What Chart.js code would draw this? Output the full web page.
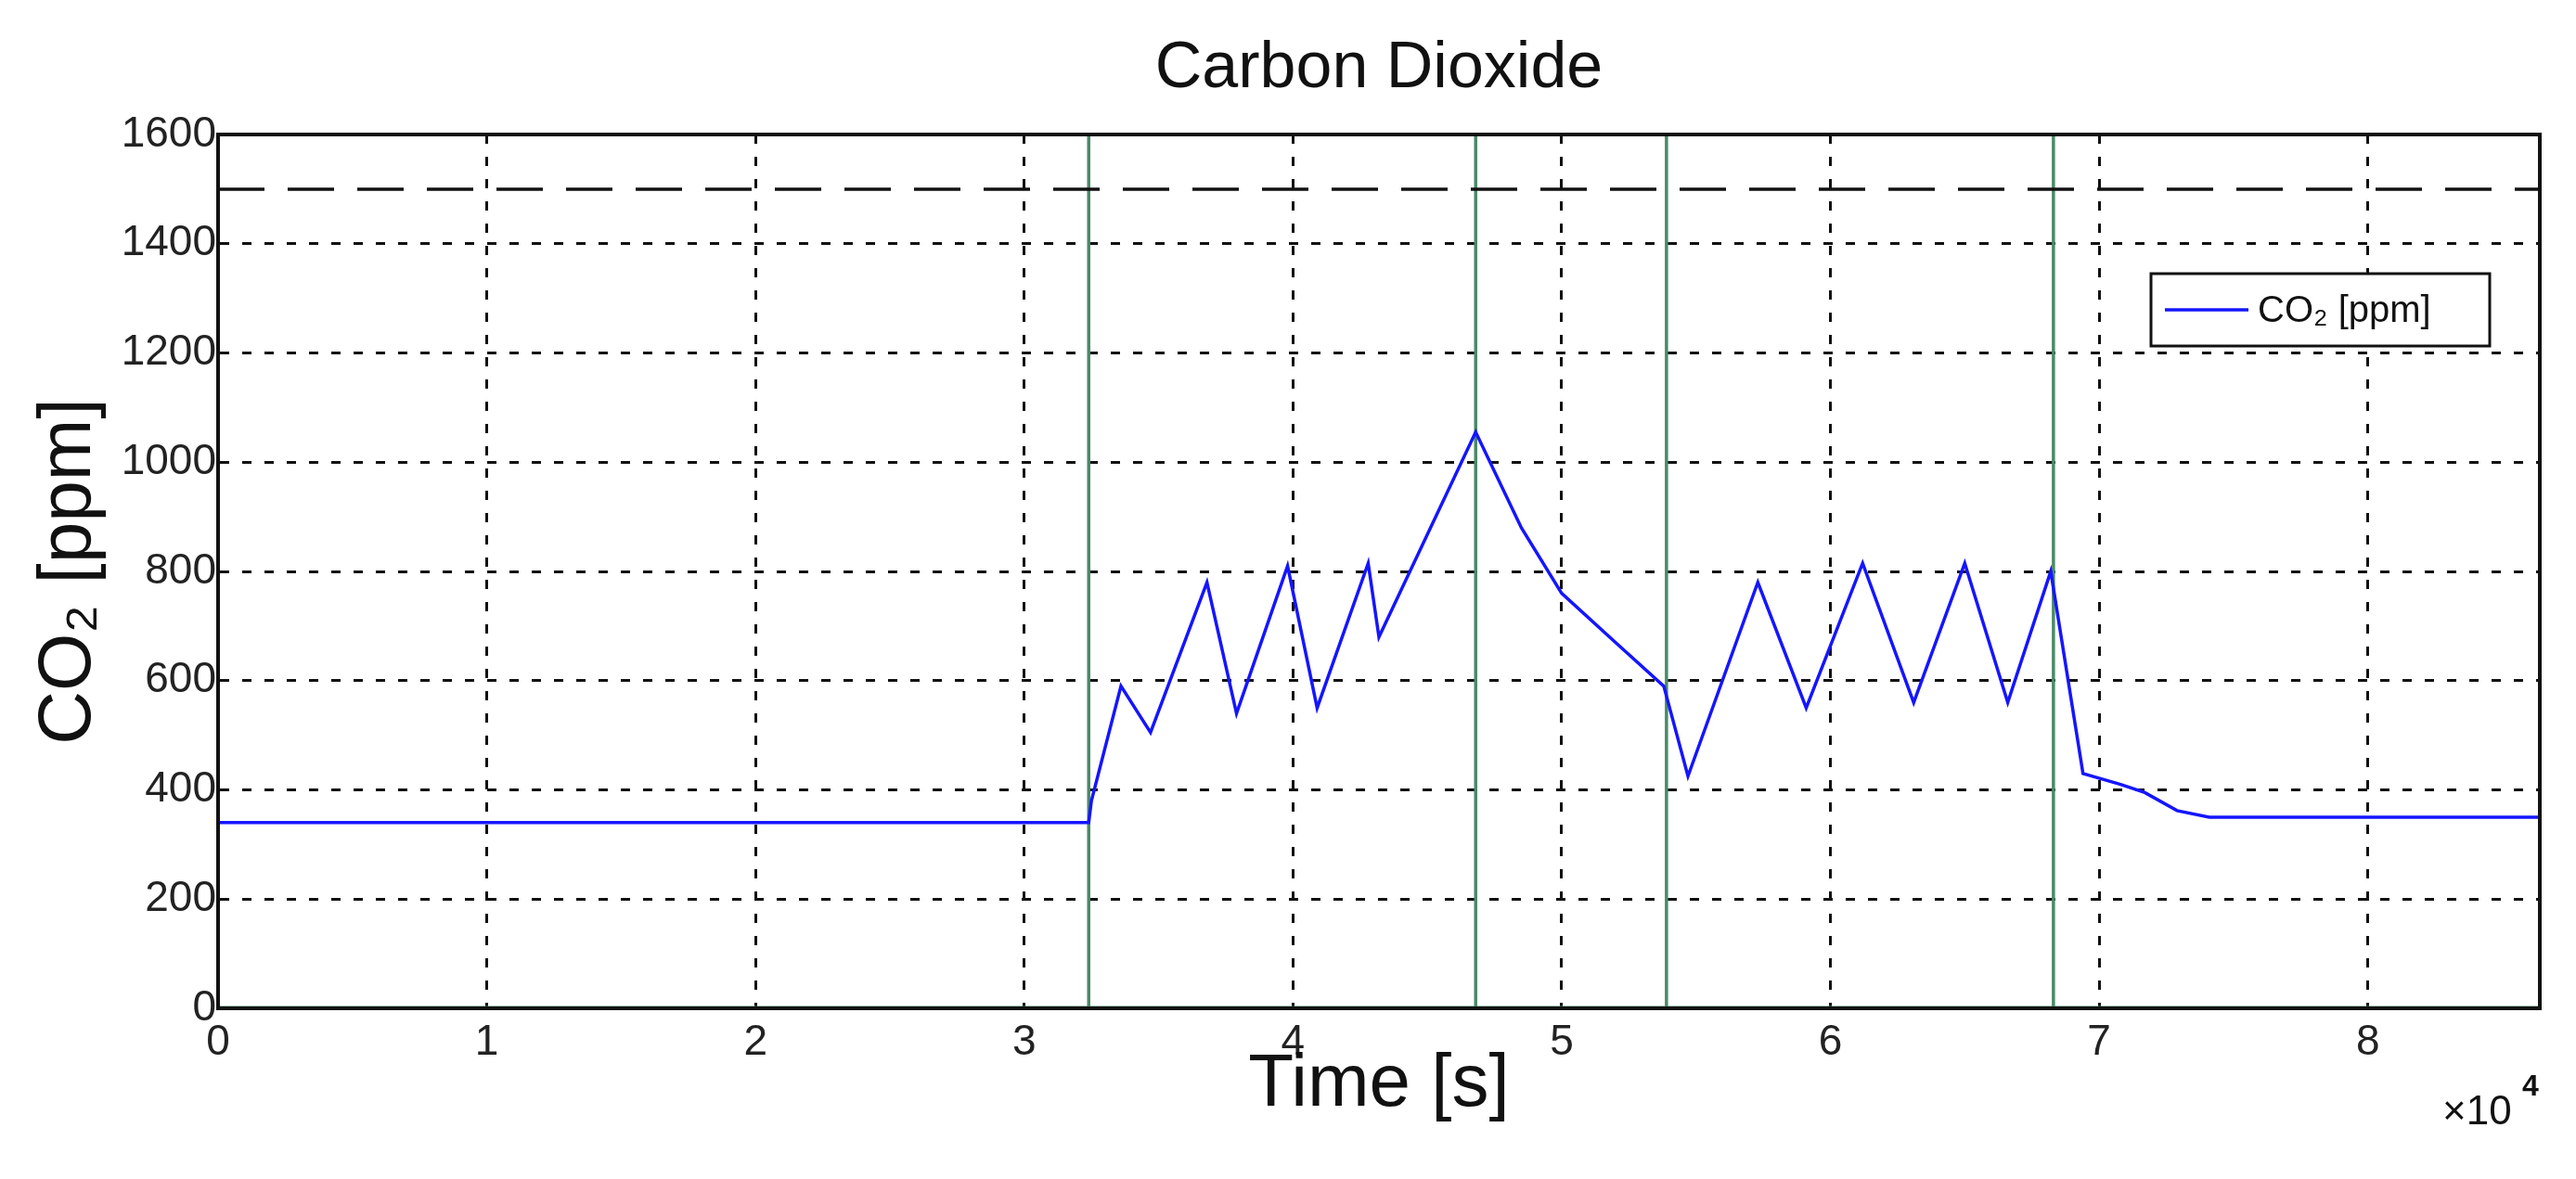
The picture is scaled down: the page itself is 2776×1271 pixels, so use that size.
<!DOCTYPE html>
<html><head><meta charset="utf-8">
<script src="https://cdn.jsdelivr.net/npm/chart.js@4"></script>
<style>html,body{margin:0;padding:0;background:#fff}</style>
</head><body>
<canvas id="c" width="2776" height="1271"></canvas>
<script>
const timeS = [0,32400,32500,33600,34700,36800,37900,39800,40900,42800,43200,46800,48500,50000,52000,53800,54700,57300,59100,61200,63100,65000,66600,68200,69400,70800,71700,72900,74100,86400];
const co2Ppm = [340,340,380,590,505,780,540,810,550,815,680,1055,880,760,670,590,425,780,550,815,560,815,560,800,430,410,395,362,350,350];
const limitPpm = 1500;
const switchTimes = [32400,46800,53900,68300];
const xTicks = [0,1,2,3,4,5,6,7,8];
const yTicks = [0,200,400,600,800,1000,1200,1400,1600];
const green = '#4a8a68';

const datasets = [
  {label:'CO₂ [ppm]', data: timeS.map((t,i)=>({x:t,y:co2Ppm[i]})), borderColor:'#1515ff', borderWidth:3.5, pointRadius:0, tension:0},
  {label:'limit', data:[{x:0,y:limitPpm},{x:86400,y:limitPpm}], borderColor:'#111', borderWidth:3.5, borderDash:[50,25], pointRadius:0},
  {label:'base', data:[{x:0,y:0},{x:86400,y:0}], borderColor:green, borderWidth:5, pointRadius:0}
];
switchTimes.forEach(t=>datasets.push({label:'sw', data:[{x:t,y:0},{x:t,y:1600}], borderColor:green, borderWidth:3.5, pointRadius:0}));

const deco = {
  id:'deco',
  afterDraw(ch){
    const c=ch.ctx, a=ch.chartArea;
    c.save();
    c.strokeStyle='#111'; c.lineWidth=4;
    c.strokeRect(a.left,a.top,a.right-a.left,a.bottom-a.top);
    c.fillStyle='#111'; c.textAlign='center'; c.textBaseline='middle';
    c.font='70px Liberation Sans, Arial';
    c.fillText('Carbon Dioxide',(a.left+a.right)/2,75);
    c.font='80px Liberation Sans, Arial';
    c.fillText('Time [s]',(a.left+a.right)/2,1170);
    c.save(); c.translate(75,(a.top+a.bottom)/2); c.rotate(-Math.PI/2);
    c.textAlign='center'; c.fillText('CO₂ [ppm]',0,0); c.restore();
    c.font='44px Liberation Sans, Arial'; c.textAlign='left';
    c.fillText('×10',2632,1200);
    c.font='bold 32px Liberation Sans, Arial'; c.fillText('4',2718,1172);
    // legend
    const lx=2318, ly=295, lw=365, lh=78;
    c.fillStyle='#fff'; c.fillRect(lx,ly,lw,lh);
    c.strokeStyle='#111'; c.lineWidth=3; c.strokeRect(lx,ly,lw,lh);
    c.strokeStyle='#1515ff'; c.lineWidth=3.5; c.beginPath(); c.moveTo(lx+15,ly+lh/2); c.lineTo(lx+105,ly+lh/2); c.stroke();
    c.fillStyle='#111'; c.font='40px Liberation Sans, Arial'; c.textAlign='left';
    c.fillText('CO₂ [ppm]',lx+115,ly+lh/2+2);
    c.restore();
  }
};

new Chart(document.getElementById('c'),{
  type:'line',
  data:{datasets},
  options:{
    responsive:false, animation:false,
    layout:{padding:{top:145,right:39,left:0,bottom:0}},
    plugins:{legend:{display:false},title:{display:false},tooltip:{enabled:false}},
    scales:{
      x:{type:'linear',min:0,max:86400,
        afterFit(s){s.height=184;},
        afterBuildTicks(s){s.ticks=xTicks.map(v=>({value:v*1e4}));},
        ticks:{callback:v=>String(v/1e4),color:'#222',font:{size:46,family:'Liberation Sans'},padding:10,maxRotation:0},
        grid:{color:'#111',lineWidth:3,drawTicks:false},
        border:{display:true,color:'#111',width:4,dash:[10,14]}
      },
      y:{min:0,max:1600,
        afterFit(s){s.width=235;},
        afterBuildTicks(s){s.ticks=yTicks.map(v=>({value:v}));},
        ticks:{callback:v=>String(v),color:'#222',font:{size:46,family:'Liberation Sans'},padding:2},
        grid:{color:'#111',lineWidth:3,drawTicks:false},
        border:{display:true,color:'#111',width:4,dash:[10,14]}
      }
    }
  },
  plugins:[deco]
});
</script>
</body></html>
